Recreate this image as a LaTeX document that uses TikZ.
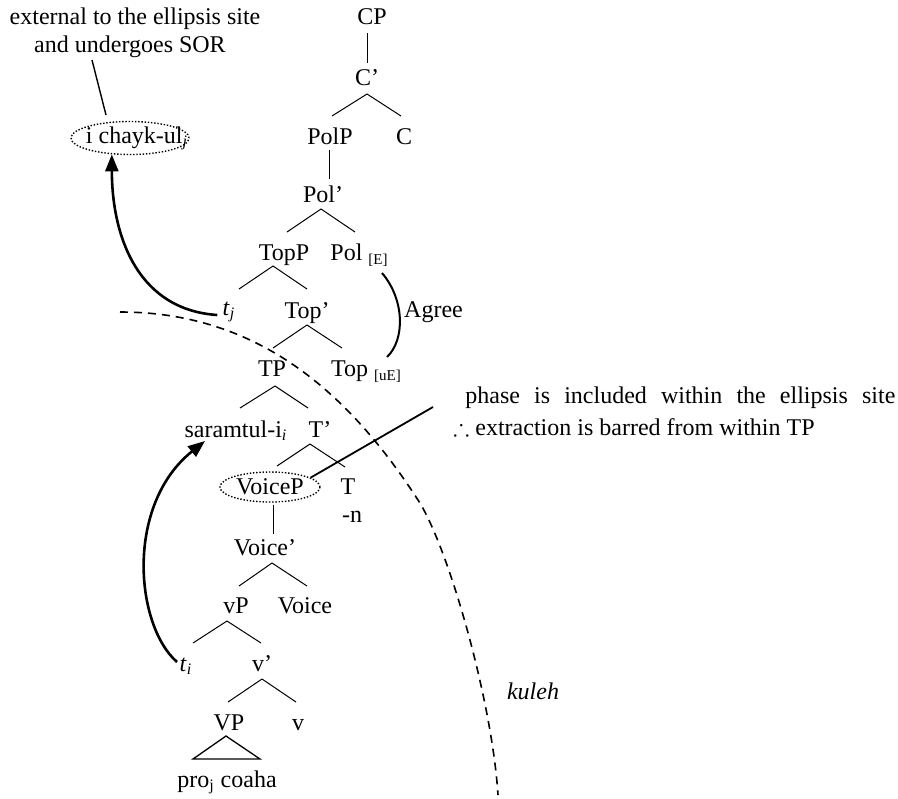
\documentclass[tikz,border=0pt]{standalone}
\usepackage{fontspec}
\setmainfont{Liberation Serif}
\usepackage{amssymb}
\usetikzlibrary{arrows.meta,shapes.geometric}

% feature subscripts such as [E] and [uE]
\newcommand\featsub[1]{\raisebox{-2pt}{\fontsize{7.5}{9}\selectfont #1}}
% one branch of the tree: start anchor, offset, end anchor, offset
\newcommand\twig[4]{\draw[twig] ([shift={(#2)}]#1) -- ([shift={(#4)}]#3);}

\begin{document}
\begin{tikzpicture}[x=0.5pt,y=-0.5pt,
  font=\fontsize{12}{14.4}\selectfont,
  lbl/.style={anchor=base, inner sep=0pt},
  twig/.style={line width=0.5pt},
  move/.style={line width=1.3pt, -{Triangle[length=8.5pt,width=6.5pt]}},
  ring/.style={draw, ellipse, line width=0.7pt, dash pattern=on 0.7pt off 0.9pt, inner sep=0pt},
  agreeline/.style={line width=1pt},
  pointer/.style={line width=0.9pt},
  boundary/.style={line width=0.8pt, dash pattern=on 4pt off 3pt},
]
\useasboundingbox (0,0) rectangle (898,798);

% annotations
\node[lbl] (ext1) at (135,24) {external to the ellipsis site};
\node[lbl] (ext2) at (130,52) {and undergoes SOR};
\node[lbl, anchor=base west] (phase) at (465,403)
  {\makebox[215pt][s]{phase is included within the ellipsis site}};
\node[lbl, anchor=base west] (hence) at (453,435)
  {$\therefore$ extraction is barred from within TP};
\node[lbl] (agree) at (433.5,317) {Agree};
\node[lbl] (kuleh) at (533,699) {\textit{kuleh}};

% tree labels
\node[lbl] (cp) at (372,24) {CP};
\node[lbl] (cbar) at (367,85) {C’};
\node[lbl] (polp) at (330,144) {PolP};
\node[lbl] (c) at (404,144) {C};
\node[lbl] (polbar) at (323,202) {Pol’};
\node[lbl] (topp) at (284,260) {TopP};
\node[lbl] (pol) at (359,260) {Pol \featsub{[E]}};
\node[lbl] (tj) at (229,315) {\textit{t}\textsubscript{\textit{j}}};
\node[lbl] (topbar) at (307,318) {Top’};
\node[lbl] (tp) at (272,376) {TP};
\node[lbl] (top) at (366,376) {Top \featsub{[uE]}};
\node[lbl] (sar) at (236,437) {saramtul-i\textsubscript{\textit{i}}};
\node[lbl] (tbar) at (320,437) {T’};
\node[ring, minimum width=50pt, minimum height=15pt] (voicep) at (270,487) {VoiceP};
\node[lbl] (t) at (348,494) {T};
\node[lbl] (tn) at (352,522) {-n};
\node[lbl] (voicebar) at (265,555) {Voice’};
\node[lbl] (vp) at (236,613) {vP};
\node[lbl] (voice) at (305,613) {Voice};
\node[lbl] (ti) at (186,671) {\textit{t}\textsubscript{\textit{i}}};
\node[lbl] (vbar) at (262,671) {v’};
\node[lbl] (bigvp) at (229,730) {VP};
\node[lbl] (v) at (298,730) {v};
\node[lbl] (pro) at (227,787) {pro\textsubscript{j} coaha};
\node[ring, minimum width=59pt, minimum height=16.5pt] (chaykring) at (130,138) {};
\node[lbl] (chayk) at (137,143) {i chayk-ul\textsubscript{\textit{j}}};

% branches
\twig{cp.base}{-5,9}{cbar.base}{0,-22}
\twig{cbar.base}{0,9}{polp.base}{2,-28}
\twig{cbar.base}{0,9}{c.base}{-3,-28}
\twig{polp.base}{-1,6}{polbar.base}{6,-23}
\twig{polbar.base}{-2,7}{topp.base}{3,-28}
\twig{polbar.base}{-2,7}{pol.base}{-4,-28}
\twig{topp.base}{-11,6}{tj.base}{10,-26}
\twig{topp.base}{-11,6}{topbar.base}{0,-29}
\twig{topbar.base}{0,7}{tp.base}{1,-28}
\twig{topbar.base}{0,7}{top.base}{-24,-28}
\twig{tp.base}{3,10}{sar.base}{4,-29}
\twig{tp.base}{3,10}{tbar.base}{-12,-29}
\twig{tbar.base}{-10,7}{voicep.center}{7,-21}
\twig{tbar.base}{-10,7}{t.base}{-3,-27}
\twig{voicep.center}{3,18}{voicebar.base}{8,-21}
\twig{voicebar.base}{7,8}{vp.base}{3,-27}
\twig{voicebar.base}{7,8}{voice.base}{2,-27}
\twig{vp.base}{-9,8}{ti.base}{7,-28}
\twig{vp.base}{-9,8}{vbar.base}{-1,-28}
\twig{vbar.base}{0,8}{bigvp.base}{-1,-28}
\twig{vbar.base}{0,8}{v.base}{-2,-28}
\draw[twig, line width=0.65pt] ([shift={(-3,6)}]bigvp.base) -- ([shift={(-34,-28)}]pro.base)
  -- ([shift={(33,-28)}]pro.base) -- cycle;

% movement arrows
\draw[move] ([shift={(-5,0)}]tj.base west) .. controls (140,310) and (112,240) .. (chaykring.222);
\draw[move] ([shift={(-9,-9)}]ti.base) .. controls (135,625) and (125,505) .. ([shift={(-31,4)}]sar.base);

% agreement between Pol and Top
\draw[agreeline] ([shift={(23,13)}]pol.base) .. controls (405,300) and (405,340) .. ([shift={(21,-19)}]top.base);

% pointers from the notes
\draw[pointer] (voicep.13) -- ([shift={(-32,4)}]phase.base west);
\draw[line width=0.7pt] ([shift={(-38,8)}]ext2.base) -- ([shift={(-24,-23)}]chaykring.center);

% ellipsis boundary
\draw[boundary] (120,312) .. controls (260,312) and (350,395) .. (418,500)
  .. controls (448,546) and (492,700) .. (498,795);
\end{tikzpicture}
\end{document}
